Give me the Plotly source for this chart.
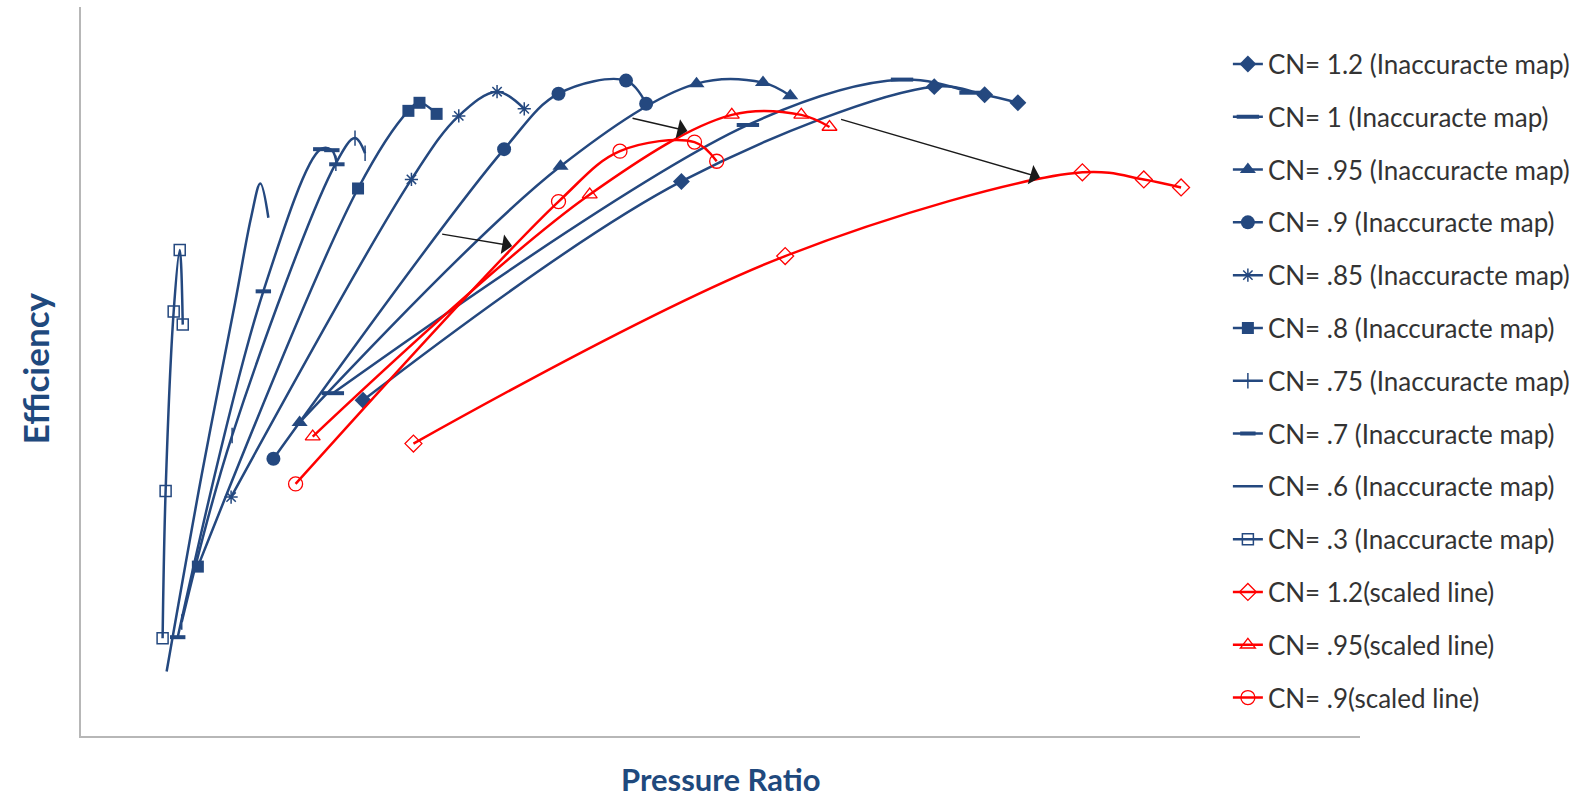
import plotly.graph_objects as go

BLUE = "#24487F"
RED = "#FF0000"
TITLE_BLUE = "#1F497D"

# ---- Inaccurate compressor map: speed lines (pressure ratio, efficiency) ----
pr_cn120 = [1.700, 2.490, 3.1175, 3.2425, 3.325]
eff_cn120 = [0.603, 0.820, 0.914, 0.906, 0.898]

pr_cn100 = [1.625, 2.655, 3.0375, 3.2075]
eff_cn100 = [0.610, 0.876, 0.921, 0.908]

pr_cn095 = [1.5425, 2.190, 2.5275, 2.6925, 2.760]
eff_cn095 = [0.581, 0.835, 0.917, 0.918, 0.905]

pr_cn090 = [1.4775, 2.050, 2.185, 2.3525, 2.4025]
eff_cn090 = [0.545, 0.852, 0.907, 0.920, 0.897]

pr_cn085 = [1.3725, 1.820, 1.9375, 2.0325, 2.100]
eff_cn085 = [0.507, 0.822, 0.885, 0.909, 0.892]

pr_cn080 = [1.290, 1.6875, 1.8125, 1.840, 1.8825]
eff_cn080 = [0.438, 0.813, 0.890, 0.898, 0.887]

pr_cn075 = [1.250, 1.375, 1.6325, 1.680, 1.705]
eff_cn075 = [0.383, 0.568, 0.838, 0.863, 0.848]

pr_cn070 = [1.240, 1.4525, 1.595, 1.6225, 1.635]
eff_cn070 = [0.368, 0.711, 0.852, 0.851, 0.837]

pr_cn060 = [1.2125, 1.300, 1.3825, 1.4225, 1.445, 1.465]
eff_cn060 = [0.334, 0.530, 0.700, 0.785, 0.818, 0.784]

pr_cn030 = [1.2025, 1.210, 1.230, 1.245, 1.2525]
eff_cn030 = [0.367, 0.513, 0.691, 0.752, 0.678]

# ---- Scaled speed lines ----
pr_s120 = [1.825, 2.7475, 3.485, 3.6375, 3.730]
eff_s120 = [0.560, 0.746, 0.829, 0.822, 0.814]

pr_s095 = [1.575, 2.2625, 2.615, 2.7875, 2.8575]
eff_s095 = [0.567, 0.807, 0.886, 0.886, 0.874]

pr_s090 = [1.5325, 2.185, 2.3375, 2.5225, 2.5775]
eff_s090 = [0.520, 0.800, 0.850, 0.859, 0.840]

# ---- Shift arrows: (tail PR, tail eff, head PR, head eff) ----
arrow_tail_pr = [1.8925, 2.365, 2.8825]
arrow_tail_eff = [0.768, 0.883, 0.882]
arrow_head_pr = [2.070, 2.505, 3.380]
arrow_head_eff = [0.756, 0.870, 0.824]

series = [
    ("CN= 1.2 (Inaccuracte map)", pr_cn120, eff_cn120, BLUE,
     dict(symbol="diamond", size=13, color=BLUE)),
    ("CN= 1 (Inaccuracte map)", pr_cn100, eff_cn100, BLUE,
     dict(symbol="line-ew", size=16, color=BLUE, line=dict(color=BLUE, width=4))),
    ("CN= .95 (Inaccuracte map)", pr_cn095, eff_cn095, BLUE,
     dict(symbol="triangle-up", size=14, color=BLUE)),
    ("CN= .9 (Inaccuracte map)", pr_cn090, eff_cn090, BLUE,
     dict(symbol="circle", size=14, color=BLUE)),
    ("CN= .85 (Inaccuracte map)", pr_cn085, eff_cn085, BLUE,
     dict(symbol="asterisk-open", size=11, color=BLUE, line=dict(color=BLUE, width=1.5))),
    ("CN= .8 (Inaccuracte map)", pr_cn080, eff_cn080, BLUE,
     dict(symbol="square", size=12, color=BLUE)),
    ("CN= .75 (Inaccuracte map)", pr_cn075, eff_cn075, BLUE,
     dict(symbol="line-ns", size=11, color=BLUE, line=dict(color=BLUE, width=1.5))),
    ("CN= .7 (Inaccuracte map)", pr_cn070, eff_cn070, BLUE,
     dict(symbol="line-ew", size=11, color=BLUE, line=dict(color=BLUE, width=4))),
    ("CN= .6 (Inaccuracte map)", pr_cn060, eff_cn060, BLUE, None),
    ("CN= .3 (Inaccuracte map)", pr_cn030, eff_cn030, BLUE,
     dict(symbol="square-open", size=11, color=BLUE, line=dict(color=BLUE, width=1.5))),
    ("CN= 1.2(scaled line)", pr_s120, eff_s120, RED,
     dict(symbol="diamond-open", size=13, color=RED, line=dict(color=RED, width=1.3))),
    ("CN= .95(scaled line)", pr_s095, eff_s095, RED,
     dict(symbol="triangle-up-open", size=13, color=RED, line=dict(color=RED, width=1.3))),
    ("CN= .9(scaled line)", pr_s090, eff_s090, RED,
     dict(symbol="circle-open", size=14, color=RED, line=dict(color=RED, width=1.3))),
]

fig = go.Figure()
for i, (name, xs, ys, color, marker) in enumerate(series):
    fig.add_trace(go.Scatter(
        x=xs, y=ys, name=name,
        mode="lines+markers" if marker else "lines",
        line=dict(color=color, width=2.5, shape="spline", smoothing=1.0),
        marker=marker,
        legendgroup=f"g{i}",
    ))

annotations = []
for tx, ty, hx, hy in zip(arrow_tail_pr, arrow_tail_eff, arrow_head_pr, arrow_head_eff):
    annotations.append(dict(
        x=hx, y=hy, ax=tx, ay=ty, xref="x", yref="y", axref="x", ayref="y",
        showarrow=True, arrowhead=1, arrowsize=2.2, arrowwidth=1.5,
        arrowcolor="#1A1A1A", standoff=0, text="",
    ))

annotations.append(dict(
    text="<b>Efficiency</b>", xref="paper", yref="paper", x=-0.0357, y=0.5048,
    textangle=-90, showarrow=False, xanchor="center", yanchor="middle",
    font=dict(family="Lato", size=35, color=TITLE_BLUE),
))
annotations.append(dict(
    text="<b>Pressure Ratio</b>", xref="paper", yref="paper", x=0.5, y=-0.0583,
    showarrow=False, xanchor="center", yanchor="middle",
    font=dict(family="Lato", size=31, color=TITLE_BLUE),
))

fig.update_layout(
    width=1581, height=798,
    margin=dict(l=81, r=220, t=7, b=62),
    paper_bgcolor="white", plot_bgcolor="white",
    showlegend=True,
    legend=dict(
        x=0.896, y=0.954, xanchor="left", yanchor="top",
        font=dict(family="Lato", size=26, color="#333333"),
        tracegroupgap=16, bgcolor="rgba(0,0,0,0)",
    ),
    annotations=annotations,
    xaxis=dict(range=[1.0, 4.174], showline=True, linecolor="#B7B7B7", linewidth=2,
               showgrid=False, zeroline=False, showticklabels=False, ticks=""),
    yaxis=dict(range=[0.270, 0.993], showline=True, linecolor="#B7B7B7", linewidth=2,
               showgrid=False, zeroline=False, showticklabels=False, ticks=""),
)

fig.write_html("out.html")
